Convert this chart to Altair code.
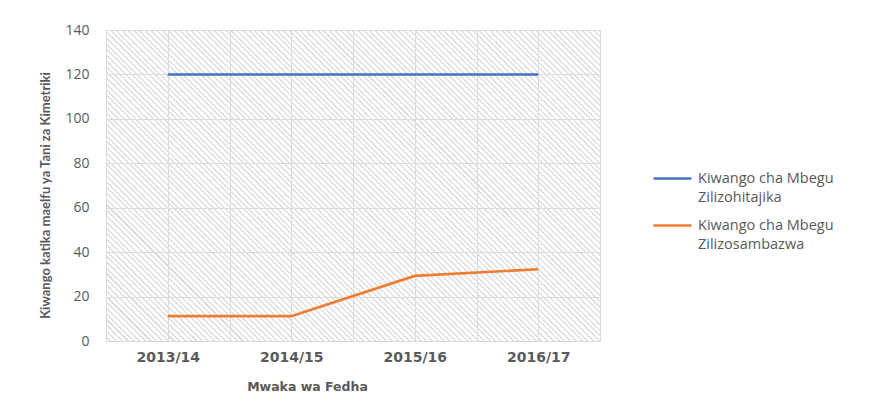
import altair as alt
import pandas as pd

years = ["2013/14", "2014/15", "2015/16", "2016/17"]
series_names = ["Kiwango cha Mbegu Zilizohitajika", "Kiwango cha Mbegu Zilizosambazwa"]
required = [120, 120, 120, 120]
distributed = [11.2, 11.2, 29.3, 32.3]
colors = ["#4472C4", "#ED7D31"]

rows = []
for i, y in enumerate(years):
    rows.append({"year": y, "idx": i, "series": series_names[0], "value": required[i]})
    rows.append({"year": y, "idx": i, "series": series_names[1], "value": distributed[i]})
df = pd.DataFrame(rows)

W, H = 494, 311
GRID = "#d9d9d9"
TXT = "#595959"

# diagonal hatch as a striped linear gradient (bounding-box units)
k = (W + H) / (W * W + H * H)
dx, dy = k * W, -k * H
n = 140
stops = []
for i in range(n):
    a = i / n
    b = (i + 0.65) / n
    c = (i + 1) / n
    stops += [
        {"offset": a, "color": "rgba(255,255,255,0)"},
        {"offset": b, "color": "rgba(255,255,255,0)"},
        {"offset": b, "color": "#dfdfdf"},
        {"offset": c, "color": "#dfdfdf"},
    ]
hatch_fill = {"gradient": "linear", "x1": 0, "y1": 1, "x2": dx, "y2": 1 + dy, "stops": stops}

label_arr = "[" + ",".join("'" + y + "'" for y in years) + "]"
x_vals = [v / 2 for v in range(-1, 2 * len(years))]

base = alt.Chart(df)

hatch = base.transform_filter("datum.idx == 0 && datum.series == '" + series_names[0] + "'").mark_rect(
    fill=hatch_fill
).encode(
    x=alt.value(0), x2=alt.value("width"), y=alt.value(0), y2=alt.value("height")
)

lines = base.mark_line(strokeWidth=2.6).encode(
    x=alt.X(
        "idx:Q",
        scale=alt.Scale(domain=[-0.5, len(years) - 0.5], nice=False, zero=False),
        axis=alt.Axis(
            values=x_vals,
            labelExpr="datum.value % 1 == 0 ? " + label_arr + "[datum.value] : ''",
            title="Mwaka wa Fedha",
            grid=True,
            gridColor=GRID,
            domainColor=GRID,
            ticks=False,
            labelFont="DejaVu Sans",
            labelFontWeight="bold",
            labelFontSize=14,
            labelColor=TXT,
            labelPadding=9,
            labelFlush=False,
            labelOverlap=False,
            titleFont="DejaVu Sans",
            titleFontWeight="bold",
            titleFontSize=12.5,
            titleColor=TXT,
            titleX=201,
            titleY=45,
            titleAlign="center",
            titleBaseline="middle",
        ),
    ),
    y=alt.Y(
        "value:Q",
        scale=alt.Scale(domain=[0, 140], nice=False),
        axis=alt.Axis(
            values=list(range(0, 141, 20)),
            title="Kiwango katika maelfu ya Tani za Kimetriki",
            grid=True,
            gridColor=GRID,
            domain=False,
            ticks=False,
            labelFont="Open Sans",
            labelFontSize=14,
            labelColor=TXT,
            labelPadding=17,
            titleFont="Lato",
            titleFontWeight="bold",
            titleFontSize=13,
            titleColor=TXT,
            titleX=-61,
            titleY=165,
            titleAngle=270,
            titleAlign="center",
            titleBaseline="middle",
        ),
    ),
    color=alt.Color(
        "series:N",
        scale=alt.Scale(domain=series_names, range=colors),
        legend=alt.Legend(
            title=None,
            orient="none",
            legendX=546,
            legendY=128,
            symbolType="stroke",
            symbolSize=1444,
            symbolStrokeWidth=2.6,
            labelOffset=5,
            labelFont="Open Sans",
            labelFontSize=14.5,
            labelColor=TXT,
            labelBaseline="middle",
            labelLimit=400,
            labelExpr="[slice(datum.label, 0, 17), slice(datum.label, 18)]",
            rowPadding=0,
            padding=0,
        ),
    ),
)

chart = alt.layer(hatch, lines).properties(
    width=W,
    height=H,
    autosize=alt.AutoSizeParams(type="none"),
    padding={"left": 98, "top": 22, "right": 265, "bottom": 58},
    background="white",
).configure(
    style={"guide-label": {"lineHeight": 19.5}}
).configure_view(stroke=None)

chart.save("out.html", embed_options={"renderer": "svg", "actions": False})
